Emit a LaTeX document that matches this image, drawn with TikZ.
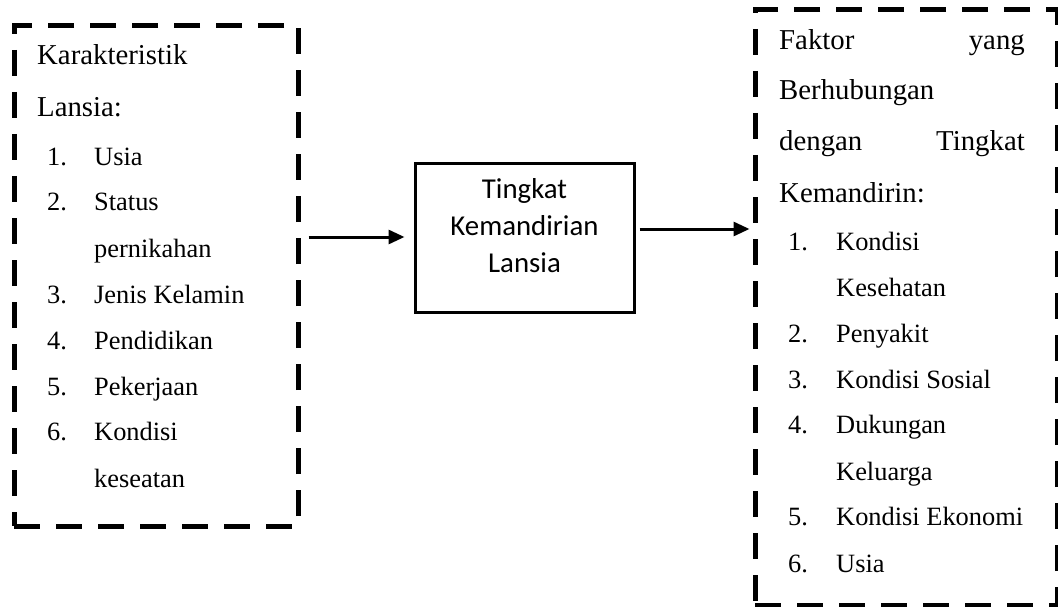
\documentclass[tikz,border=0pt]{standalone}
\usepackage{fontspec}
\setmainfont{Liberation Serif}
\newfontfamily\sansf{Carlito}
\usetikzlibrary{arrows.meta}
\begin{document}
\begin{tikzpicture}[x=1pt,y=-1pt,
  dbox/.style={draw, line width=5pt, dash pattern=on 26pt off 16pt, inner sep=0pt},
  txt/.style={anchor=base west, inner sep=0pt, font=\fontsize{28.8}{34}\selectfont},
  itm/.style={anchor=base west, inner sep=0pt, font=\fontsize{26.4}{32}\selectfont},
  txte/.style={txt, anchor=base east},
  ctxt/.style={anchor=base, inner sep=0pt, font=\sansf\fontsize{28.8}{34}\selectfont},
  cboxst/.style={draw, line width=3pt, minimum width=219pt, minimum height=148pt, inner sep=0pt},
  arr/.style={line width=3pt, -{Triangle[length=16pt,width=14pt]}}]
\useasboundingbox (0,0) rectangle (1058,607);
% boxes
\node[dbox, minimum width=284pt, minimum height=500pt] (lbox) at (156,276) {};
\node[dbox, minimum width=302pt, minimum height=595pt] (rbox) at (906,307.5) {};
\node[cboxst] (cbox) at (524.5,238) {};
% centre text
\node[ctxt] (ct1) at (524.5,198) {Tingkat};
\node[ctxt] (ct2) at (524.5,235) {Kemandirian};
\node[ctxt] (ct3) at (524.5,272) {Lansia};
% left text
\node[txt] (l0) at (37,65) {Karakteristik};
\node[txt] (l00) at (37,117) {Lansia:};
\node[itm] (ln1) at (47,165) {1.}; \node[itm] (lt1) at (94,165) {Usia};
\node[itm] (ln2) at (47,211) {2.}; \node[itm] (lt2) at (94,211) {Status};
\node[itm] (lt2b) at (94,257) {pernikahan};
\node[itm] (ln3) at (47,303) {3.}; \node[itm] (lt3) at (94,303) {Jenis Kelamin};
\node[itm] (ln4) at (47,349) {4.}; \node[itm] (lt4) at (94,349) {Pendidikan};
\node[itm] (ln5) at (47,395) {5.}; \node[itm] (lt5) at (94,395) {Pekerjaan};
\node[itm] (ln6) at (47,440) {6.}; \node[itm] (lt6) at (94,440) {Kondisi};
\node[itm] (lt6b) at (94,487) {keseatan};
% right text
\node[txt] (r0a) at (779,50) {Faktor}; \node[txte] (r0b) at (1025,50) {yang};
\node[txt] (r1) at (779,100) {Berhubungan};
\node[txt] (r2a) at (779,150) {dengan}; \node[txte] (r2b) at (1025,150) {Tingkat};
\node[txt] (r3) at (779,202) {Kemandirin:};
\node[itm] (rn1) at (788,250) {1.}; \node[itm] (rt1) at (836,250) {Kondisi};
\node[itm] (rt1b) at (836,296) {Kesehatan};
\node[itm] (rn2) at (788,342) {2.}; \node[itm] (rt2) at (836,342) {Penyakit};
\node[itm] (rn3) at (788,388) {3.}; \node[itm] (rt3) at (836,388) {Kondisi Sosial};
\node[itm] (rn4) at (788,433) {4.}; \node[itm] (rt4) at (836,433) {Dukungan};
\node[itm] (rt4b) at (836,480) {Keluarga};
\node[itm] (rn5) at (788,525) {5.}; \node[itm] (rt5) at (836,525) {Kondisi Ekonomi};
\node[itm] (rn6) at (788,572) {6.}; \node[itm] (rt6) at (836,572) {Usia};
% arrows
\coordinate (ya) at (0,237);
\coordinate (yb) at (0,229);
\draw[arr] ([xshift=8pt]lbox.east |- ya) -- ([xshift=-9pt]cbox.west |- ya);
\draw[arr] ([xshift=4pt]cbox.east |- yb) -- ([xshift=-3pt]rbox.west |- yb);
\end{tikzpicture}
\end{document}
